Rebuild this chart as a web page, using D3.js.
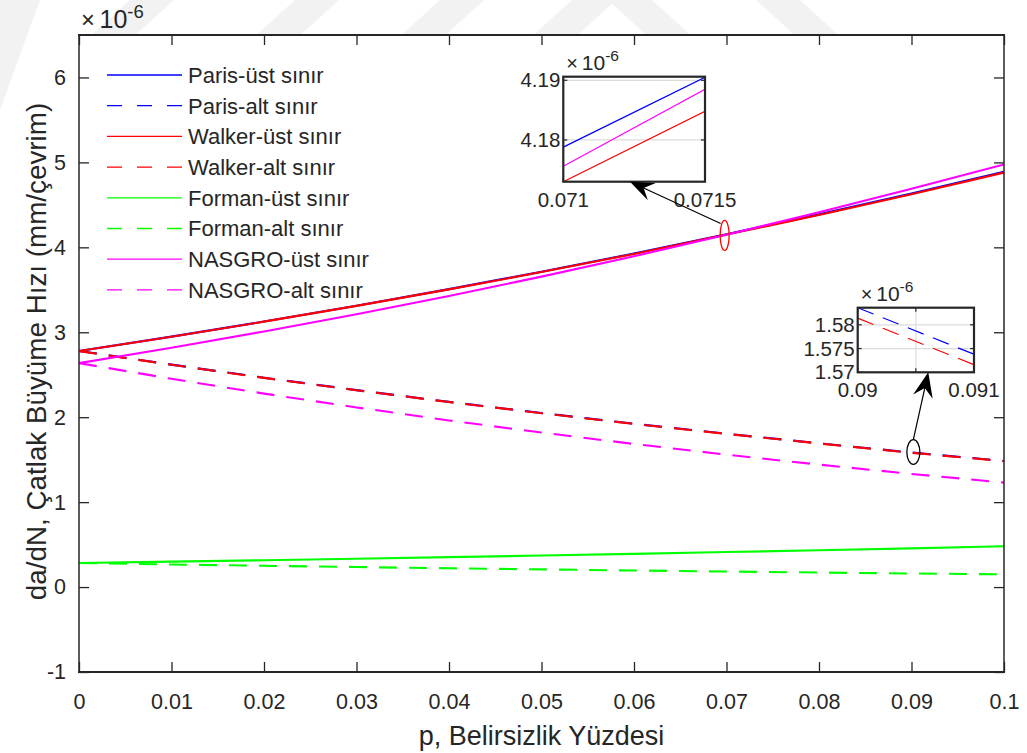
<!DOCTYPE html>
<html>
<head>
<meta charset="utf-8">
<script src="https://cdn.jsdelivr.net/npm/d3@7"></script>
<style>
  body { margin: 0; background: #fff; }
  svg text { font-family: Arial, "Liberation Sans", Helvetica, sans-serif; fill: #262626; }
</style>
</head>
<body>
<svg id="chart" width="1027" height="753"></svg>
<script>
// ---- data ---------------------------------------------------------------
const pValues    = [0, 0.01, 0.02, 0.03, 0.04, 0.05, 0.06, 0.07, 0.08, 0.09, 0.1];
const parisUst   = [2.780, 2.949, 3.126, 3.313, 3.508, 3.713, 3.927, 4.155, 4.388, 4.634, 4.890];
const parisAlt   = [2.780, 2.619, 2.465, 2.319, 2.180, 2.049, 1.923, 1.805, 1.693, 1.584, 1.485];
const walkerUst  = [2.780, 2.948, 3.125, 3.311, 3.505, 3.709, 3.922, 4.150, 4.381, 4.626, 4.880];
const walkerAlt  = [2.778, 2.617, 2.463, 2.317, 2.178, 2.047, 1.921, 1.803, 1.691, 1.581, 1.483];
const formanUst  = [0.283, 0.299, 0.316, 0.333, 0.352, 0.371, 0.391, 0.412, 0.433, 0.456, 0.480];
const formanAlt  = [0.283, 0.266, 0.251, 0.236, 0.221, 0.208, 0.195, 0.183, 0.171, 0.160, 0.150];
const nasgroUst  = [2.637, 2.818, 3.010, 3.213, 3.428, 3.655, 3.895, 4.149, 4.413, 4.690, 4.975];
const nasgroAlt  = [2.637, 2.452, 2.278, 2.115, 1.962, 1.819, 1.685, 1.559, 1.442, 1.332, 1.230];

const seriesNames = ["Paris-üst sınır", "Paris-alt sınır", "Walker-üst sınır", "Walker-alt sınır",
                     "Forman-üst sınır", "Forman-alt sınır", "NASGRO-üst sınır", "NASGRO-alt sınır"];

const xTickValues = [0, 0.01, 0.02, 0.03, 0.04, 0.05, 0.06, 0.07, 0.08, 0.09, 0.1];
const xTickLabels = ["0", "0.01", "0.02", "0.03", "0.04", "0.05", "0.06", "0.07", "0.08", "0.09", "0.1"];
const yTickValues = [-1, 0, 1, 2, 3, 4, 5, 6];
const yTickLabels = ["-1", "0", "1", "2", "3", "4", "5", "6"];

// zoomed views (values in units of 1e-6)
const zoomA_p      = [0.071, 0.0715];
const zoomA_paris  = [4.1788, 4.1905];
const zoomA_walker = [4.1730, 4.1848];
const zoomA_nasgro = [4.1756, 4.1885];
const zoomA_yTicks = [4.18, 4.19];
const zoomA_yLabels = ["4.18", "4.19"];
const zoomA_xTicks = [0.071, 0.0715];
const zoomA_xLabels = ["0.071", "0.0715"];

const zoomB_p      = [0.09, 0.091];
const zoomB_paris  = [1.5836, 1.5738];
const zoomB_walker = [1.5814, 1.5716];
const zoomB_yTicks = [1.57, 1.575, 1.58];
const zoomB_yLabels = ["1.57", "1.575", "1.58"];
const zoomB_xTicks = [0.09, 0.0905, 0.091];
const zoomB_xLabels = ["0.09", "", "0.091"];

// ---- styles -------------------------------------------------------------
const BLUE = "#0000ff", RED = "#ff0000", GREEN = "#00ff00", MAGENTA = "#ff00ff";
const INK = "#262626";
const FONT = 'Arial, "Liberation Sans", Helvetica, sans-serif';
const mainSeries = [
  { name: seriesNames[0], values: parisUst,  color: BLUE,    dashed: false },
  { name: seriesNames[1], values: parisAlt,  color: BLUE,    dashed: true  },
  { name: seriesNames[2], values: walkerUst, color: RED,     dashed: false },
  { name: seriesNames[3], values: walkerAlt, color: RED,     dashed: true  },
  { name: seriesNames[4], values: formanUst, color: GREEN,   dashed: false },
  { name: seriesNames[5], values: formanAlt, color: GREEN,   dashed: true  },
  { name: seriesNames[6], values: nasgroUst, color: MAGENTA, dashed: false },
  { name: seriesNames[7], values: nasgroAlt, color: MAGENTA, dashed: true  }
];

const W = 1027, H = 753;
const M = { left: 79, right: 1004, top: 35, bottom: 672 };

const svg = d3.select("#chart");
svg.append("rect").attr("width", W).attr("height", H).attr("fill", "#fff");

// faint background stripes of the page behind the figure
const stripes = svg.append("g").attr("fill", "#f2f2f2");
const stripeBand = (c, slant, w) => {
  // c: centre at mid-height of the top margin, slant: +1 for "/", -1 for "\"
  const h = 40, s = 22 * slant;
  return [[c - s - w / 2, h], [c - s + w / 2, h], [c + s + w / 2, 0], [c + s - w / 2, 0]];
};
[[130, 1], [295, 1], [440, 1], [572, 1], [652, -1], [800, -1]].forEach(([c, s]) => {
  stripes.append("polygon").attr("points", stripeBand(c, s, 44).map(p => p.join(",")).join(" "));
});
stripes.append("polygon").attr("points", "0,0 40,0 0,110");

// ---- main axes ----------------------------------------------------------
const x = d3.scaleLinear().domain([0, 0.1]).range([M.left, M.right]);
const y = d3.scaleLinear().domain([-1, 6.5]).range([M.bottom, M.top]);

svg.append("rect").attr("x", M.left).attr("y", M.top)
  .attr("width", M.right - M.left).attr("height", M.bottom - M.top).attr("fill", "#fff");

svg.append("clipPath").attr("id", "plotClip").append("rect")
  .attr("x", M.left).attr("y", M.top).attr("width", M.right - M.left).attr("height", M.bottom - M.top);

const line = d3.line().x((d, i) => x(pValues[i])).y(d => y(d));
const plot = svg.append("g").attr("clip-path", "url(#plotClip)");
mainSeries.forEach(s => {
  plot.append("path").attr("d", line(s.values))
    .attr("fill", "none").attr("stroke", s.color).attr("stroke-width", 2.1)
    .attr("stroke-dasharray", s.dashed ? "18,12" : null);
});

function styleAxis(g, fontSize) {
  g.attr("font-family", FONT).attr("font-size", fontSize);
  g.select(".domain").remove();
  g.selectAll(".tick line").attr("stroke", INK).attr("stroke-width", 1.3);
  g.selectAll(".tick text").attr("fill", INK);
}

svg.append("g").attr("transform", `translate(0,${M.bottom})`)
  .call(d3.axisBottom(x).tickValues(xTickValues).tickFormat((d, i) => xTickLabels[i])
    .tickSizeInner(-10).tickSizeOuter(0).tickPadding(22))
  .call(g => styleAxis(g, 21.5));
svg.append("g").attr("transform", `translate(0,${M.top})`)
  .call(d3.axisTop(x).tickValues(xTickValues).tickFormat("").tickSizeInner(-10).tickSizeOuter(0))
  .call(g => styleAxis(g, 21.5));
svg.append("g").attr("transform", `translate(${M.left},0)`)
  .call(d3.axisLeft(y).tickValues(yTickValues).tickFormat((d, i) => yTickLabels[i])
    .tickSizeInner(-10).tickSizeOuter(0).tickPadding(13))
  .call(g => styleAxis(g, 21.5));
svg.append("g").attr("transform", `translate(${M.right},0)`)
  .call(d3.axisRight(y).tickValues(yTickValues).tickFormat("").tickSizeInner(-10).tickSizeOuter(0))
  .call(g => styleAxis(g, 21.5));

// box
const box = svg.append("g").attr("stroke", INK).attr("fill", "none");
box.append("line").attr("x1", M.left - 1).attr("x2", M.right + 1).attr("y1", M.top).attr("y2", M.top).attr("stroke-width", 2);
box.append("line").attr("x1", M.left - 1).attr("x2", M.right + 1).attr("y1", M.bottom).attr("y2", M.bottom).attr("stroke-width", 2);
box.append("line").attr("x1", M.left).attr("x2", M.left).attr("y1", M.top).attr("y2", M.bottom).attr("stroke-width", 1.5);
box.append("line").attr("x1", M.right).attr("x2", M.right).attr("y1", M.top).attr("y2", M.bottom).attr("stroke-width", 1.5);

// exponent multiplier "×10^-6"
function exponentLabel(px, py, size) {
  svg.append("text").attr("x", px).attr("y", py).attr("font-size", size * 0.95)
    .attr("fill", "#444").text("×");
  const t = svg.append("text").attr("x", px + size * 0.74).attr("y", py).attr("font-size", size);
  t.append("tspan").text("10");
  t.append("tspan").text("-6").attr("font-size", size * 0.74).attr("dy", -size * 0.42);
}
exponentLabel(81, 28, 25);

// axis titles
svg.append("text").attr("x", (M.left + M.right) / 2).attr("y", 745)
  .attr("text-anchor", "middle").attr("font-size", 27).text("p, Belirsizlik Yüzdesi");
svg.append("text").attr("transform", `translate(46,${(M.top + M.bottom) / 2 - 2}) rotate(-90)`)
  .attr("text-anchor", "middle").attr("font-size", 27.8)
  .text("da/dN, Çatlak Büyüme Hızı (mm/çevrim)");

// ---- legend -------------------------------------------------------------
const legend = svg.append("g");
mainSeries.forEach((s, i) => {
  const ly = 75 + i * 30.7;
  legend.append("line").attr("x1", 107).attr("x2", 182).attr("y1", ly).attr("y2", ly)
    .attr("stroke", s.color).attr("stroke-width", 1.3)
    .attr("stroke-dasharray", s.dashed ? "15,15" : null);
  legend.append("text").attr("x", 188).attr("y", ly).attr("dy", "0.36em")
    .attr("font-size", 22).text(s.name);
});

// ---- zoomed insets ------------------------------------------------------
function drawInset(cfg) {
  const g = svg.append("g");
  const ix = d3.scaleLinear().domain(cfg.xDomain).range([cfg.left, cfg.left + cfg.width]);
  const iy = d3.scaleLinear().domain(cfg.yDomain).range([cfg.top + cfg.height, cfg.top]);
  g.append("rect").attr("x", cfg.left).attr("y", cfg.top).attr("width", cfg.width).attr("height", cfg.height)
    .attr("fill", "#fff");
  // grid
  cfg.yTicks.forEach(v => g.append("line").attr("x1", cfg.left).attr("x2", cfg.left + cfg.width)
    .attr("y1", iy(v)).attr("y2", iy(v)).attr("stroke", "#dcdcdc").attr("stroke-width", 1.2));
  cfg.xTicks.forEach(v => g.append("line").attr("x1", ix(v)).attr("x2", ix(v))
    .attr("y1", cfg.top).attr("y2", cfg.top + cfg.height).attr("stroke", "#dcdcdc").attr("stroke-width", 1.2));
  // lines
  const cid = cfg.id + "Clip";
  g.append("clipPath").attr("id", cid).append("rect")
    .attr("x", cfg.left).attr("y", cfg.top).attr("width", cfg.width).attr("height", cfg.height);
  const lg = g.append("g").attr("clip-path", `url(#${cid})`);
  const il = d3.line().x((d, i) => ix(cfg.p[i])).y(d => iy(d));
  cfg.series.forEach(s => lg.append("path").attr("d", il(s.values)).attr("fill", "none")
    .attr("stroke", s.color).attr("stroke-width", 1.2).attr("stroke-dasharray", s.dashed ? "17,10" : null));
  // ticks
  cfg.yTicks.forEach(v => {
    g.append("line").attr("x1", cfg.left).attr("x2", cfg.left + 4).attr("y1", iy(v)).attr("y2", iy(v)).attr("stroke", INK).attr("stroke-width", 1.2);
    g.append("line").attr("x1", cfg.left + cfg.width - 4).attr("x2", cfg.left + cfg.width).attr("y1", iy(v)).attr("y2", iy(v)).attr("stroke", INK).attr("stroke-width", 1.2);
  });
  cfg.xTicks.forEach(v => {
    g.append("line").attr("x1", ix(v)).attr("x2", ix(v)).attr("y1", cfg.top).attr("y2", cfg.top + 4).attr("stroke", INK).attr("stroke-width", 1.2);
    g.append("line").attr("x1", ix(v)).attr("x2", ix(v)).attr("y1", cfg.top + cfg.height - 4).attr("y2", cfg.top + cfg.height).attr("stroke", INK).attr("stroke-width", 1.2);
  });
  // border
  g.append("rect").attr("x", cfg.left).attr("y", cfg.top).attr("width", cfg.width).attr("height", cfg.height)
    .attr("fill", "none").attr("stroke", INK).attr("stroke-width", 2.2);
  // labels
  cfg.yTicks.forEach((v, i) => g.append("text").attr("x", cfg.left - 3).attr("y", iy(v)).attr("dy", "0.35em")
    .attr("text-anchor", "end").attr("font-size", 20.5).text(cfg.yLabels[i]));
  cfg.xTicks.forEach((v, i) => g.append("text").attr("x", ix(v)).attr("y", cfg.top + cfg.height + 25)
    .attr("text-anchor", "middle").attr("font-size", 20.5).text(cfg.xLabels[i]));
  exponentLabel(cfg.left + 3, cfg.top - 7, 21);
  return { ix, iy };
}

drawInset({
  id: "zoomA", left: 563.3, top: 76.7, width: 141.7, height: 105,
  xDomain: [0.071, 0.0715], yDomain: [4.1730, 4.1906], p: zoomA_p,
  xTicks: zoomA_xTicks, xLabels: zoomA_xLabels, yTicks: zoomA_yTicks, yLabels: zoomA_yLabels,
  series: [
    { values: zoomA_paris,  color: BLUE,    dashed: false },
    { values: zoomA_nasgro, color: MAGENTA, dashed: false },
    { values: zoomA_walker, color: RED,     dashed: false }
  ]
});
drawInset({
  id: "zoomB", left: 857.7, top: 307.7, width: 116.3, height: 64.6,
  xDomain: [0.09, 0.091], yDomain: [1.5700, 1.5836], p: zoomB_p,
  xTicks: zoomB_xTicks, xLabels: zoomB_xLabels, yTicks: zoomB_yTicks, yLabels: zoomB_yLabels,
  series: [
    { values: zoomB_paris,  color: BLUE, dashed: true },
    { values: zoomB_walker, color: RED,  dashed: true }
  ]
});

// ---- callouts: ellipse around the zoomed region + arrow to the inset ----
function arrow(sx, sy, tx, ty, L, hw, notch) {
  const dx = tx - sx, dy = ty - sy, len = Math.hypot(dx, dy);
  const ux = dx / len, uy = dy / len, nx = -uy, ny = ux;
  svg.append("line").attr("x1", sx).attr("y1", sy).attr("x2", tx - ux * notch).attr("y2", ty - uy * notch)
    .attr("stroke", "#000").attr("stroke-width", 1.2);
  const pts = [
    [tx, ty],
    [tx - ux * L + nx * hw, ty - uy * L + ny * hw],
    [tx - ux * notch, ty - uy * notch],
    [tx - ux * L - nx * hw, ty - uy * L - ny * hw]
  ];
  svg.append("polygon").attr("points", pts.map(p => p.join(",")).join(" ")).attr("fill", "#000");
}

const e1 = { cx: x(0.0698), cy: y(4.14), rx: 4.5, ry: 15 };
svg.append("ellipse").attr("cx", e1.cx).attr("cy", e1.cy).attr("rx", e1.rx).attr("ry", e1.ry)
  .attr("fill", "none").attr("stroke", RED).attr("stroke-width", 1.3);
arrow(e1.cx - 4, e1.cy - 12, 630, 181.7, 24, 9.5, 15);

const e2 = { cx: x(0.0902), cy: y(1.59), rx: 6.5, ry: 12.3 };
svg.append("ellipse").attr("cx", e2.cx).attr("cy", e2.cy).attr("rx", e2.rx).attr("ry", e2.ry)
  .attr("fill", "none").attr("stroke", "#000").attr("stroke-width", 1.3);
arrow(e2.cx, e2.cy - e2.ry, 928.3, 372.3, 25, 10, 16);
</script>
</body>
</html>
